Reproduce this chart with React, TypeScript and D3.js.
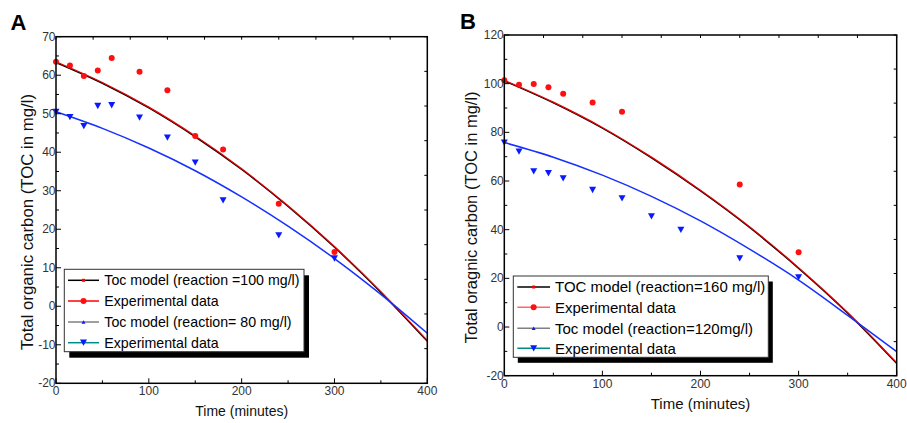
import React from "react";
import * as d3 from "d3";

// ---------- data ----------
const modelTime = [0, 50, 100, 150, 200, 250, 300, 350, 400];

// Panel A
const modelA100 = [63.5, 58.1, 51.7, 44.2, 35.7, 26.1, 15.5, 3.8, -8.9];
const modelA80 = [50.5, 46.2, 41.1, 35.2, 28.4, 20.8, 12.4, 3.1, -7.0];
const expTimeA = [0, 15, 30, 45, 60, 90, 120, 150, 180, 240, 300];
const expA100 = [63.5, 62.5, 59.8, 61.2, 64.5, 60.9, 56.1, 44.2, 40.7, 26.6, 14.1];
const expA80 = [50.5, 49.1, 46.8, 52.0, 52.2, 49.0, 43.8, 37.3, 27.5, 18.4, 12.4];

// Panel B
const modelB160 = [101.4, 92.4, 82.0, 69.8, 56.2, 41.2, 24.4, 6.0, -14.7];
const modelB120 = [75.8, 69.8, 62.4, 53.7, 43.6, 32.0, 19.3, 4.8, -10.1];
const expTimeB160 = [0, 15, 30, 45, 60, 90, 120, 240, 300];
const expB160 = [101.4, 99.6, 99.9, 98.5, 95.9, 92.3, 88.5, 58.6, 30.7];
const expTimeB120 = [0, 15, 30, 45, 60, 90, 120, 150, 180, 240, 300];
const expB120 = [75.8, 72.1, 64.0, 63.2, 61.1, 56.3, 52.9, 45.5, 39.9, 28.2, 20.4];

const xTicks = [0, 100, 200, 300, 400];
const yTicksA = [-20, -10, 0, 10, 20, 30, 40, 50, 60, 70];
const yTicksB = [-20, 0, 20, 40, 60, 80, 100, 120];

const legendA = [
  "Toc model (reaction =100 mg/l)",
  "Experimental data",
  "Toc model (reaction= 80 mg/l)",
  "Experimental data",
];
const legendB = [
  "TOC model (reaction=160 mg/l)",
  "Experimental data",
  "Toc model (reaction=120mg/l)",
  "Experimental data",
];

const FONT = "Liberation Sans, Arial, Helvetica, sans-serif";

type PanelProps = {
  label: string;
  labelX: number;
  labelY: number;
  left: number;
  right: number;
  top: number;
  bottom: number;
  yDomain: [number, number];
  yTicks: number[];
  yMinorStep: number;
  modelHi: number[];
  modelLo: number[];
  expTimeHi: number[];
  expHi: number[];
  expTimeLo: number[];
  expLo: number[];
  yTitle: string;
  yTitleX: number;
  yTitleSize: number;
  xTitleX: number;
  xTitleY: number;
  xTitleSize: number;
  legend: string[];
  legendBox: { x: number; y: number; w: number; h: number; dx: number; dy: number };
  legendRows: number[];
  legendLineX: [number, number];
  legendTextX: number;
  legendSize: number;
  legendRed2: string;
};

function Panel(p: PanelProps) {
  const x = d3.scaleLinear().domain([0, 400]).range([p.left, p.right]);
  const y = d3.scaleLinear().domain(p.yDomain).range([p.bottom, p.top]);
  const line = d3
    .line<number>()
    .x((_, i) => x(modelTime[i]))
    .y((d) => y(d))
    .curve(d3.curveMonotoneX);

  const [y0, y1] = p.yDomain;
  const yMinor = d3.range(y0, y1 + 0.001, p.yMinorStep);
  const xMinor = d3.range(0, 400.001, 50);
  const topTicks = d3.range(0, 400.001, 40);
  const rightTicks = d3.range(0, 10.001, 1).map((k) => y0 + ((y1 - y0) * k) / 10);

  const tri = (cx: number, cy: number, s: number, down: boolean) => {
    const h = s * 0.9;
    return down
      ? `M${cx - s / 2},${cy - h / 2}L${cx + s / 2},${cy - h / 2}L${cx},${cy + h / 2}Z`
      : `M${cx - s / 2},${cy + h / 2}L${cx + s / 2},${cy + h / 2}L${cx},${cy - h / 2}Z`;
  };

  const lb = p.legendBox;
  const [lx0, lx1] = p.legendLineX;
  const lmx = (lx0 + lx1) / 2;
  const legendColors = ["#000000", p.legendRed2, "#808080", "#008b8b"];

  return (
    <g fontFamily={FONT}>
      <text x={p.labelX} y={p.labelY} fontSize={22} fontWeight="bold" fill="#000">
        {p.label}
      </text>

      {/* model curves */}
      <path d={line(p.modelHi) || ""} fill="none" stroke="#000" strokeWidth={1.3} transform="translate(0,0.8)" />
      <path d={line(p.modelHi) || ""} fill="none" stroke="#e00000" strokeWidth={1.3} />
      <path d={line(p.modelLo) || ""} fill="none" stroke="#1530ff" strokeWidth={1.5} />

      {/* experimental points */}
      {p.expHi.map((v, i) => (
        <circle key={"h" + i} cx={x(p.expTimeHi[i])} cy={y(v)} r={3} fill="#ff1010" />
      ))}
      {p.expLo.map((v, i) => (
        <path key={"l" + i} d={tri(x(p.expTimeLo[i]), y(v), 7, true)} fill="#0a1aff" />
      ))}

      {/* frame */}
      <rect x={p.left} y={p.top} width={p.right - p.left} height={p.bottom - p.top} fill="none" stroke="#000" strokeWidth={1.5} />

      {/* left ticks */}
      {yMinor.map((v) => {
        const major = p.yTicks.includes(Math.round(v * 1000) / 1000);
        return (
          <line key={"yl" + v} x1={p.left} x2={p.left + (major ? 5 : 3)} y1={y(v)} y2={y(v)} stroke="#000" strokeWidth={1} />
        );
      })}
      {/* right ticks */}
      {rightTicks.map((v, i) => (
        <line key={"yr" + i} x1={p.right} x2={p.right - 3} y1={y(v)} y2={y(v)} stroke="#000" strokeWidth={1} />
      ))}
      {/* bottom ticks */}
      {xMinor.map((v) => (
        <line key={"xb" + v} x1={x(v)} x2={x(v)} y1={p.bottom} y2={p.bottom - (v % 100 === 0 ? 5 : 3)} stroke="#000" strokeWidth={1} />
      ))}
      {/* top ticks */}
      {topTicks.map((v) => (
        <line key={"xt" + v} x1={x(v)} x2={x(v)} y1={p.top} y2={p.top + 3} stroke="#000" strokeWidth={1} />
      ))}

      {/* tick labels */}
      {p.yTicks.map((v) => (
        <text key={"ytl" + v} x={p.left - 0.5} y={y(v) + 4} fontSize={12} textAnchor="end" fill="#333">
          {v}
        </text>
      ))}
      {xTicks.map((v) => (
        <text key={"xtl" + v} x={x(v)} y={p.bottom + 12} fontSize={12} textAnchor="middle" fill="#333">
          {v}
        </text>
      ))}

      {/* axis titles */}
      <text x={p.xTitleX} y={p.xTitleY} fontSize={p.xTitleSize} textAnchor="middle" fill="#111">
        Time (minutes)
      </text>
      <text
        transform={`translate(${p.yTitleX},${(p.top + p.bottom) / 2 + 12}) rotate(-90)`}
        fontSize={p.yTitleSize}
        textAnchor="middle"
        fill="#111"
      >
        {p.yTitle}
      </text>

      {/* legend */}
      <rect x={lb.x + lb.dx} y={lb.y + lb.dy} width={lb.w} height={lb.h} fill="#000" />
      <rect x={lb.x} y={lb.y} width={lb.w} height={lb.h} fill="#fff" stroke="#333" strokeWidth={1} />
      {p.legend.map((t, i) => {
        const ry = p.legendRows[i];
        return (
          <g key={"lg" + i}>
            <line x1={lx0} x2={lx1} y1={ry} y2={ry} stroke={legendColors[i]} strokeWidth={1.5} />
            {i === 0 && <rect x={lmx - 1.5} y={ry - 1.5} width={3} height={3} fill="#ff0000" />}
            {i === 1 && <circle cx={lmx} cy={ry} r={3} fill="#ff1010" />}
            {i === 2 && <path d={tri(lmx, ry, 4, false)} fill="#0a1aff" />}
            {i === 3 && <path d={tri(lmx, ry, 7, true)} fill="#0a1aff" />}
            <text x={p.legendTextX} y={ry + p.legendSize * 0.36} fontSize={p.legendSize} fill="#000">
              {t}
            </text>
          </g>
        );
      })}
    </g>
  );
}

export default function App() {
  return (
    <svg
      width={907}
      height={423}
      viewBox="0 0 907 423"
      style={{ position: "absolute", left: 0, top: 0, background: "#fff" }}
    >
      <rect x={0} y={0} width={907} height={423} fill="#fff" />
      <Panel
        label="A"
        labelX={10.5}
        labelY={30}
        left={56}
        right={427.3}
        top={36.7}
        bottom={383.3}
        yDomain={[-20, 70]}
        yTicks={yTicksA}
        yMinorStep={5}
        modelHi={modelA100}
        modelLo={modelA80}
        expTimeHi={expTimeA}
        expHi={expA100}
        expTimeLo={expTimeA}
        expLo={expA80}
        yTitle="Total organic carbon (TOC in mg/l)"
        yTitleX={33}
        yTitleSize={16.8}
        xTitleX={241.7}
        xTitleY={416}
        xTitleSize={14}
        legend={legendA}
        legendBox={{ x: 64.3, y: 269.3, w: 239.7, h: 82.4, dx: 5, dy: 6 }}
        legendRows={[280.3, 301, 322, 342.7]}
        legendLineX={[68, 99]}
        legendTextX={104.3}
        legendSize={14.2}
        legendRed2="#ff0000"
      />
      <Panel
        label="B"
        labelX={460}
        labelY={29}
        left={504.3}
        right={896.7}
        top={35}
        bottom={375.7}
        yDomain={[-20, 120]}
        yTicks={yTicksB}
        yMinorStep={10}
        modelHi={modelB160}
        modelLo={modelB120}
        expTimeHi={expTimeB160}
        expHi={expB160}
        expTimeLo={expTimeB120}
        expLo={expB120}
        yTitle="Total oragnic carbon (TOC in mg/l)"
        yTitleX={476.8}
        yTitleSize={16.5}
        xTitleX={700.5}
        xTitleY={408.5}
        xTitleSize={15}
        legend={legendB}
        legendBox={{ x: 513.3, y: 276, w: 255, h: 81.3, dx: 4.5, dy: 5.5 }}
        legendRows={[287, 307.3, 328.3, 348.3]}
        legendLineX={[517.3, 550]}
        legendTextX={555}
        legendSize={15}
        legendRed2="#ff6666"
      />
    </svg>
  );
}
